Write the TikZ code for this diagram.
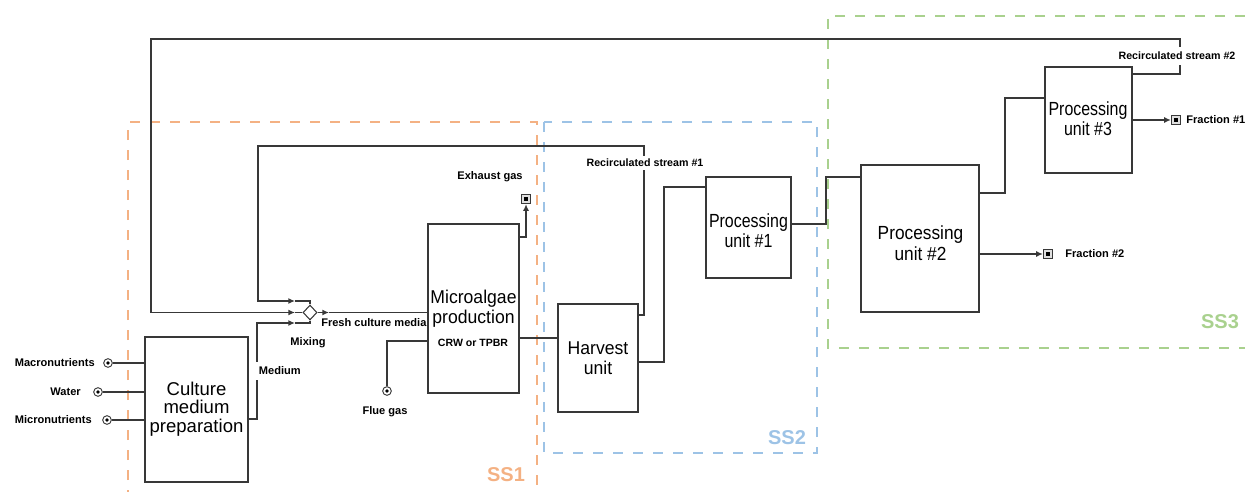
\documentclass[tikz,border=0pt]{standalone}
\usepackage{fontspec}
\setmainfont{Liberation Sans}
\newfontfamily\fA[FakeStretch=0.84]{Liberation Sans}
\newfontfamily\fB[FakeStretch=0.91]{Liberation Sans}
\newfontfamily\fC[FakeStretch=0.95]{Liberation Sans}
\usetikzlibrary{arrows.meta,shapes.geometric,fit}
\definecolor{lc}{HTML}{383838}
\definecolor{ssorange}{HTML}{F4B183}
\definecolor{ssblue}{HTML}{9DC3E6}
\definecolor{ssgreen}{HTML}{A9D18E}
\begin{document}
\begin{tikzpicture}[x=0.75pt,y=-0.75pt,
  box/.style={draw=lc, line width=1pt, inner sep=0pt},
  ln/.style={draw=lc, line width=1pt},
  arr/.style={-{Latex[length=5pt,width=4.5pt]}},
  lbl/.style={inner sep=0pt, font=\fontsize{8.3}{10}\selectfont\bfseries},
  wlbl/.style={lbl, fill=white, inner xsep=2pt},
  btxt/.style={inner sep=0pt, align=center},
  src/.style={circle, draw=lc, line width=0.7pt, fill=white, minimum size=6.5pt, inner sep=0pt,
    path picture={\fill[black] (path picture bounding box.center) circle (1.4pt);}},
  sink/.style={rectangle, draw=lc, line width=0.7pt, fill=gray!25, minimum size=7pt, inner sep=0pt,
    path picture={\fill[black] ([shift={(-1.8pt,-1.8pt)}]path picture bounding box.center) rectangle ++(3.6pt,3.6pt);}},
  ssline/.style={line width=2pt, dash pattern=on 7.5pt off 7.5pt},
  sslbl/.style={inner sep=0pt, font=\fontsize{15}{17}\selectfont\bfseries}
]
\useasboundingbox (0,0) rectangle (1245,492);

% subsystem frames
\draw[ssline, ssorange] (128,500) -- (128,122) -- (537,122) -- (537,500);
\draw[ssline, ssblue] (544,122) rectangle (817,453);
\draw[ssline, ssgreen] (1265,16) -- (828,16) -- (828,348) -- (1265,348);
\node[sslbl, text=ssorange] (ss1) at (506,475) {SS1};
\node[sslbl, text=ssblue] (ss2) at (787,438) {SS2};
\node[sslbl, text=ssgreen] (ss3) at (1220,322) {SS3};

% boxes
\node[box, fit={(145,337) (248,482)}] (cult) {};
\node[box, fit={(428,224) (519,393)}] (micro) {};
\node[box, fit={(558,304) (638,412)}] (harv) {};
\node[box, fit={(706,177) (791,278)}] (pu1) {};
\node[box, fit={(861,165) (979,312)}] (pu2) {};
\node[box, fit={(1045,67) (1132,173)}] (pu3) {};

\node[btxt, font=\fontsize{13.9}{13.9}\selectfont] (culttxt) at (196.5,409) {Culture\\medium\\preparation};
\node[btxt, font=\fontsize{13.9}{15}\fC] (microtxt) at (473.5,308.3) {Microalgae\\production};
\node[lbl, font=\fontsize{7.9}{9}\selectfont\bfseries] (crw) at (473,343.2) {CRW or TPBR};
\node[btxt, font=\fontsize{13.9}{15}\fC] (harvtxt) at (598,358.4) {Harvest\\unit};
\node[btxt, font=\fontsize{14.25}{15}\fA] (pu1txt) at (748.5,231.2) {Processing\\unit \#1};
\node[btxt, font=\fontsize{14.25}{15.75}\fB] (pu2txt) at (920.5,243.5) {Processing\\unit \#2};
\node[btxt, font=\fontsize{14.25}{15}\fA] (pu3txt) at (1088,119.2) {Processing\\unit \#3};

% mixing
\node[diamond, draw=lc, line width=0.8pt, minimum width=10.5pt, minimum height=11.25pt, inner sep=0pt] (mix) at (310,312.5) {};
\coordinate (mt) at (295,301);
\coordinate (mm) at (295,312.5);
\coordinate (mbt) at (295,323);
\coordinate (mo) at (329,312.5);

% sources
\node[src] (s1) at (108,363) {};
\node[src] (s2) at (98,392) {};
\node[src] (s3) at (107,420) {};
\node[src] (flue) at (387,391) {};
% sinks
\node[sink] (exh) at (526,199) {};
\node[sink] (f2) at (1048,254) {};
\node[sink] (f1) at (1176,120) {};

% connectors
\draw[ln] (s1) -- (s1 -| cult.west);
\draw[ln] (s2) -- (s2 -| cult.west);
\draw[ln] (s3) -- (s3 -| cult.west);

\draw[ln, arr] (cult.east |- 0,419) -| (257,323) -- (mbt);
\draw[ln] (mbt) -| (mix.south);
\draw[ln, arr] (harv.east |- 0,315) -| (644,146) -| (258,301) -- (mt);
\draw[ln] (mt) -| (mix.north);
\draw[ln, arr] (pu3.east |- 0,74) -| (1180,39) -| (151,312.5) -- (mm);
\draw[ln] (mm) -- (mix.west);
\draw[ln, arr] (mix.east) -- (mo);
\draw[ln] (mo) -- (micro.west |- mo);

\draw[ln] (flue) |- (micro.west |- 0,341);
\draw[ln, arr] (micro.east |- 0,237) -| (exh.south);
\draw[ln] (micro.east |- 0,338) -- (harv.west |- 0,338);
\draw[ln] (harv.east |- 0,362) -| (664,187) -- (pu1.west |- 0,187);
\draw[ln] (pu1.east |- 0,224) -| (826,177) -- (pu2.west |- 0,177);
\draw[ln, arr] (pu2.east |- f2) -- (f2.west);
\draw[ln] (pu2.east |- 0,193) -| (1005,98) -- (pu3.west |- 0,98);
\draw[ln, arr] (pu3.east |- f1) -- (f1.west);

% labels
\node[lbl, anchor=east] (lmacro) at (95,363) {Macronutrients};
\node[lbl, anchor=east] (lwater) at (81,392) {Water};
\node[lbl, anchor=east] (lmicro) at (92,420) {Micronutrients};
\node[wlbl, inner ysep=4pt, anchor=west] (lmed) at (256,371) {Medium};
\node[lbl] (lmix) at (308,343) {Mixing};
\node[lbl, anchor=west] (lfresh) at (321,323) {Fresh culture media};
\node[lbl] (lflue) at (385,412) {Flue gas};
\node[lbl] (lexh) at (490,177) {Exhaust gas};
\node[wlbl, inner ysep=2.5pt, font=\fontsize{8}{10}\selectfont\bfseries] (lrs1) at (645,163) {Recirculated stream \#1};
\node[wlbl, inner ysep=4pt, font=\fontsize{8}{10}\selectfont\bfseries] (lrs2) at (1177,56) {Recirculated stream \#2};
\node[lbl, anchor=west] (lf2) at (1065,254) {Fraction \#2};
\node[lbl, anchor=west] (lf1) at (1186,120) {Fraction \#1};
\end{tikzpicture}
\end{document}
